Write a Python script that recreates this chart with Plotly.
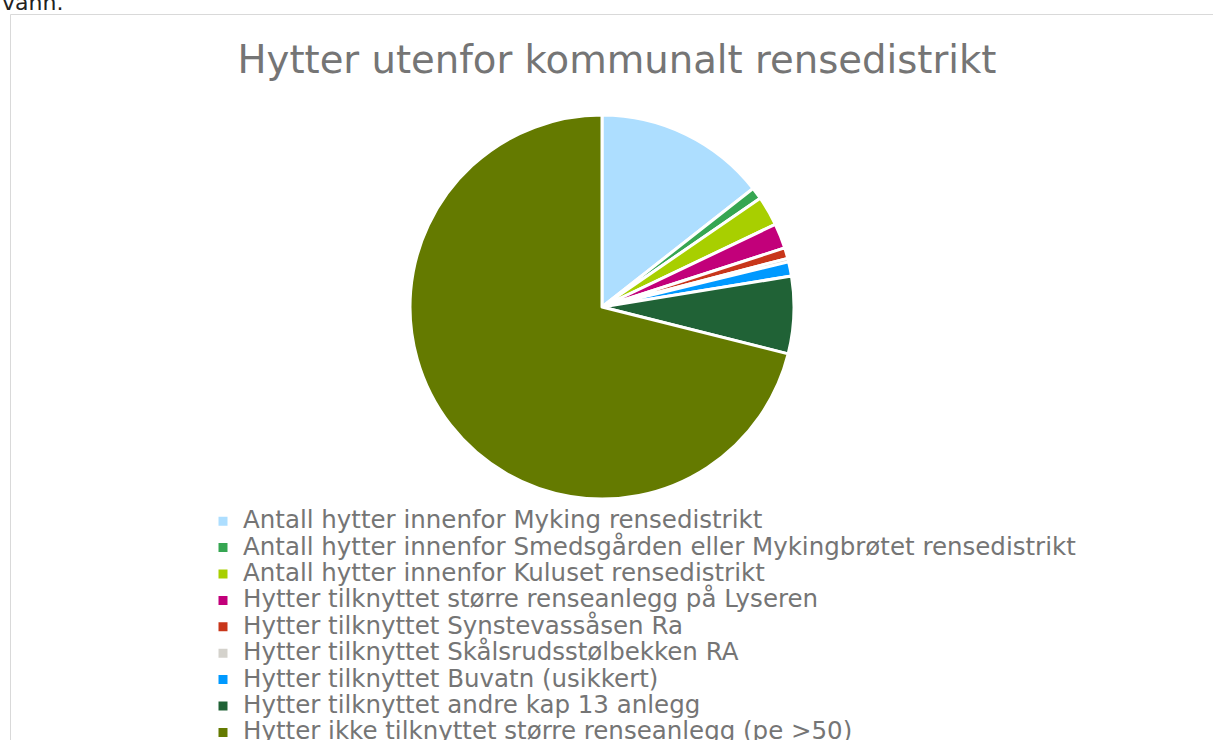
import plotly.graph_objects as go

labels = [
    "Antall hytter innenfor Myking rensedistrikt",
    "Antall hytter innenfor Smedsgården eller Mykingbrøtet rensedistrikt",
    "Antall hytter innenfor Kuluset rensedistrikt",
    "Hytter tilknyttet større renseanlegg på Lyseren",
    "Hytter tilknyttet Synstevassåsen Ra",
    "Hytter tilknyttet Skålsrudsstølbekken RA",
    "Hytter tilknyttet Buvatn (usikkert)",
    "Hytter tilknyttet andre kap 13 anlegg",
    "Hytter ikke tilknyttet større renseanlegg (pe >50)",
]
values = [14.4, 1.0, 2.5, 2.1, 0.9, 0.3, 1.2, 6.5, 71.0]
colors = ["#ADDEFF", "#36A652", "#A8CF00", "#C2007A", "#C8361A",
          "#D4D2CC", "#0099FF", "#206236", "#647A00"]

W, H = 1213, 740
cx, cy, r = 602, 307, 192

legend_names = [f"<span style='font-size:24.5px'>{t}</span>" for t in labels]

fig = go.Figure(go.Pie(
    labels=legend_names,
    values=values,
    sort=False,
    direction="clockwise",
    rotation=0,
    textinfo="none",
    hoverinfo="label+value",
    marker=dict(colors=colors, line=dict(color="white", width=3)),
    domain=dict(x=[(cx - r) / W, (cx + r) / W],
                y=[(H - cy - r) / H, (H - cy + r) / H]),
))

fig.update_layout(
    width=W, height=H,
    margin=dict(l=0, r=0, t=0, b=0, autoexpand=False),
    paper_bgcolor="white",
    font=dict(family="DejaVu Sans", color="#757575"),
    title=dict(text="Hytter utenfor kommunalt rensedistrikt",
               x=617 / W, xanchor="center", y=1 - 59 / H, yanchor="middle",
               font=dict(size=38.6, color="#757575", family="DejaVu Sans")),
    legend=dict(x=203 / W, xanchor="left", y=1 - 503 / H, yanchor="top",
                font=dict(size=18, color="#757575", family="DejaVu Sans"),
                tracegroupgap=0, itemclick=False),
    shapes=[dict(type="rect", xref="paper", yref="paper",
                 x0=10.5 / W, x1=1.02, y0=-0.02, y1=1 - 14.5 / H,
                 line=dict(color="#D9D9D9", width=1), layer="below")],
    annotations=[dict(text="vann.", xref="paper", yref="paper",
                      x=0, xanchor="left", y=1 - 17 / H, yanchor="bottom",
                      showarrow=False,
                      font=dict(size=22, color="#222222", family="DejaVu Sans"))],
)

fig.write_html(
    "out.html",
    config={"displayModeBar": False},
    post_script="document.body.style.margin='0';document.body.style.overflow='hidden';",
)
